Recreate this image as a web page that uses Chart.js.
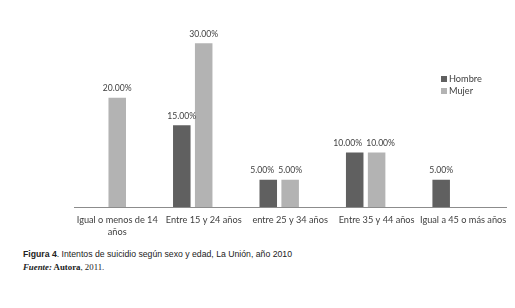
<!DOCTYPE html>
<html>
<head>
<meta charset="utf-8">
<script src="https://cdn.jsdelivr.net/npm/chart.js@4/dist/chart.umd.min.js"></script>
<style>
  html, body { margin: 0; padding: 0; background: #fff; }
  #wrap { position: relative; width: 515px; height: 245px; }
  .cap { position: absolute; left: 23px; color: #222; white-space: nowrap; }
  #cap1 { top: 249px; font-family: "Liberation Sans", Arial, sans-serif; font-size: 8.7px; }
  #cap2 { top: 262px; font-family: "Liberation Serif", "Times New Roman", serif; font-size: 8.8px; }
</style>
</head>
<body>
<div id="wrap"><canvas id="chart" width="515" height="245"></canvas></div>
<div class="cap" id="cap1"><b>Figura 4</b>. Intentos de suicidio según sexo y edad, La Unión, año 2010</div>
<div class="cap" id="cap2"><b><i>Fuente:</i> Autora</b>, 2011.</div>
<script>
  // data (percent)
  const categories = [["Igual o menos de 14", "años"], "Entre 15 y 24 años", "entre 25 y 34 años", "Entre 35 y 44 años", "Igual a 45 o más años"];
  const hombre = [null, 15, 5, 10, 5];
  const mujer = [20, 30, 5, 10, null];
  const oculto = [null, null, null, null, null]; // empty third series of the original chart

  const labelFont = "Lato, 'Open Sans', sans-serif";

  // value labels above bars, pushed apart when two neighbours collide
  const valueLabels = {
    id: "valueLabels",
    afterDatasetsDraw(chart) {
      const ctx = chart.ctx;
      ctx.save();
      ctx.font = "8.6px " + labelFont;
      ctx.fillStyle = "#404040";
      ctx.textAlign = "center";
      ctx.textBaseline = "bottom";
      const h = chart.getDatasetMeta(0).data;
      const m = chart.getDatasetMeta(1).data;
      chart.data.labels.forEach((_, j) => {
        const items = [];
        if (hombre[j] != null) items.push({ txt: hombre[j].toFixed(2) + "%", bar: h[j] });
        if (mujer[j] != null) items.push({ txt: mujer[j].toFixed(2) + "%", bar: m[j] });
        items.forEach(it => { it.x = it.bar.x; it.w = ctx.measureText(it.txt).width; });
        if (items.length === 2 && Math.abs(items[0].bar.y - items[1].bar.y) < 11) {
          const need = (items[0].w + items[1].w) / 2 + 4 - (items[1].x - items[0].x);
          if (need > 0) {
            const left = Math.min(need, 7);
            items[0].x -= left;
            items[1].x += need - left;
          }
        }
        items.forEach(it => ctx.fillText(it.txt, it.x, it.bar.y - 5));
      });
      ctx.restore();
    }
  };

  // small legend inside the plot area
  const sideLegend = {
    id: "sideLegend",
    afterDraw(chart) {
      const ctx = chart.ctx;
      ctx.save();
      ctx.font = "9.2px " + labelFont;
      ctx.textBaseline = "middle";
      let y = 79;
      chart.data.datasets.slice(0, 2).forEach(ds => {
        ctx.fillStyle = ds.backgroundColor;
        ctx.fillRect(441, y - 3, 6, 6);
        ctx.fillStyle = "#404040";
        ctx.fillText(ds.label, 449, y);
        y += 12;
      });
      ctx.restore();
    }
  };

  const ctx = document.getElementById("chart").getContext("2d");
  new Chart(ctx, {
    type: "bar",
    data: {
      labels: categories,
      datasets: [
        { label: "Hombre", data: hombre, backgroundColor: "#606060" },
        { label: "Mujer", data: mujer, backgroundColor: "#b3b3b3" },
        { label: "", data: oculto, backgroundColor: "rgba(0,0,0,0)" }
      ]
    },
    options: {
      responsive: false,
      animation: false,
      categoryPercentage: 0.76,
      barPercentage: 0.8,
      layout: { padding: { left: 74, right: 8, top: 16, bottom: 0 } },
      plugins: { legend: { display: false }, tooltip: { enabled: false } },
      scales: {
        x: {
          grid: { display: false, drawTicks: false },
          border: { display: true, color: "#8c8c8c", width: 1 },
          ticks: {
            color: "#404040",
            font: { family: labelFont, size: 9.2 },
            padding: 8,
            maxRotation: 0,
            autoSkip: false
          },
          afterFit(scale) { scale.height = 38; }
        },
        y: {
          display: false,
          min: 0,
          max: 35
        }
      }
    },
    plugins: [valueLabels, sideLegend]
  });
</script>
</body>
</html>
